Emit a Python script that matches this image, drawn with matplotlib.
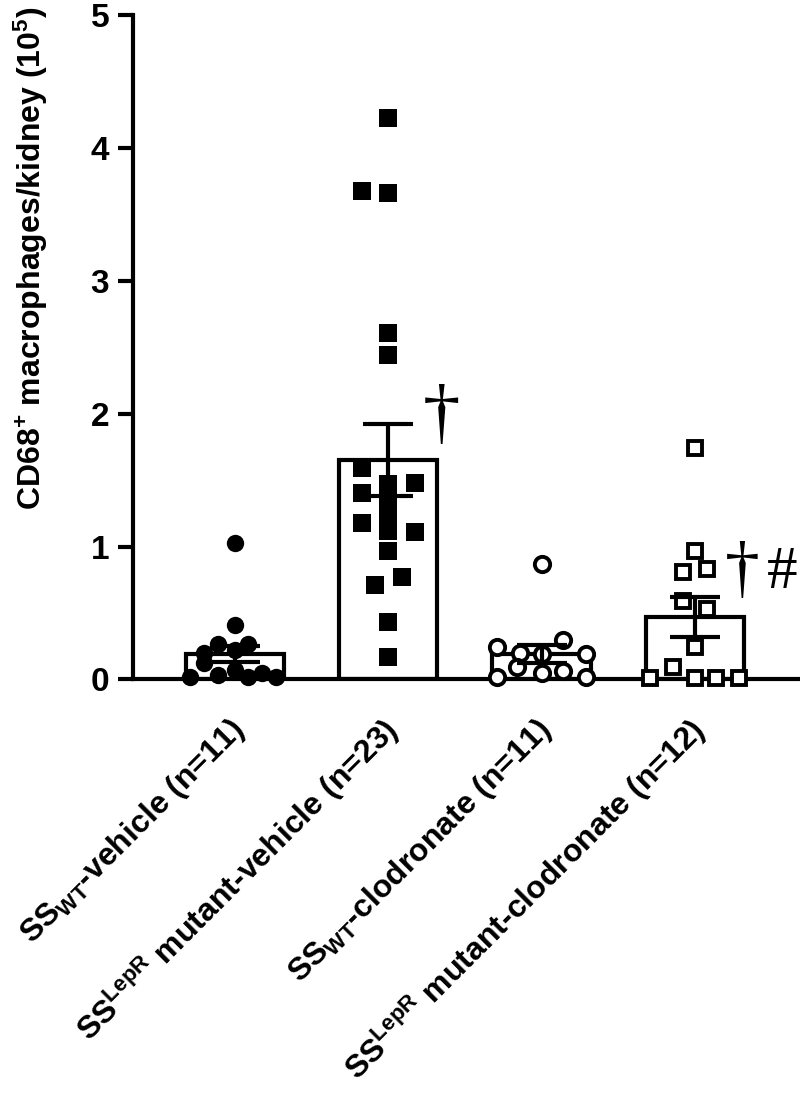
import matplotlib
matplotlib.use("Agg")
import matplotlib.pyplot as plt
import matplotlib.transforms as mtransforms
import numpy as np

plt.rcParams['font.family'] = ['Liberation Sans', 'DejaVu Sans']
plt.rcParams['font.weight'] = 'bold'
plt.rcParams['mathtext.fontset'] = 'custom'
plt.rcParams['mathtext.rm'] = 'Liberation Sans:bold'
plt.rcParams['mathtext.bf'] = 'Liberation Sans:bold'
plt.rcParams['mathtext.it'] = 'Liberation Sans:bold:italic'

# ---- data ----
categories = [r'SS$_{\mathrm{WT}}$-vehicle (n=11)',
              r'SS$^{\mathrm{LepR}}$ mutant-vehicle (n=23)',
              r'SS$_{\mathrm{WT}}$-clodronate (n=11)',
              r'SS$^{\mathrm{LepR}}$ mutant-clodronate (n=12)']
means = [0.19, 1.65, 0.19, 0.47]
sems = [0.06, 0.27, 0.07, 0.15]

wt_vehicle = [1.03, 0.41, 0.27, 0.27, 0.22, 0.20, 0.12, 0.02, 0.03, 0.07, 0.02, 0.05, 0.02]
wt_vehicle_jit = [0.0, 0.0, -0.11, 0.085, 0.0, -0.20, -0.20, -0.29, -0.11, 0.0, 0.085, 0.18, 0.27]

lepr_vehicle = [4.23, 3.68, 3.66, 2.61, 2.44, 1.59, 1.47, 1.48, 1.40, 1.36, 1.18, 1.22,
                1.12, 1.11, 0.97, 0.77, 0.71, 0.43, 0.17]
lepr_vehicle_jit = [0.0, -0.17, 0.0, 0.0, 0.0, -0.17, 0.0, 0.176, -0.17, 0.0, -0.17, 0.0,
                    0.0, 0.176, 0.0, 0.09, -0.085, 0.0, 0.0]

wt_clod = [0.87, 0.24, 0.20, 0.19, 0.30, 0.19, 0.09, 0.05, 0.06, 0.02, 0.02]
wt_clod_jit = [0.0, -0.29, -0.14, 0.0, 0.14, 0.29, -0.16, 0.0, 0.14, -0.29, 0.29]

lepr_clod = [1.74, 0.97, 0.81, 0.83, 0.59, 0.53, 0.24, 0.09, 0.01, 0.01, 0.01, 0.01]
lepr_clod_jit = [0.0, 0.0, -0.08, 0.08, -0.08, 0.08, 0.0, -0.14, -0.29, 0.0, 0.14, 0.29]

yticks = [0, 1, 2, 3, 4, 5]

# ---- figure ----
fig = plt.figure(figsize=(8, 10.94), dpi=100)
ax = fig.add_axes([0.166, 0.379, 0.834, 0.607])

x = np.arange(len(categories))
ax.bar(x, means, width=0.64, facecolor='white', edgecolor='black', linewidth=3, zorder=2)

groups = [(wt_vehicle, wt_vehicle_jit, 'o', 'black'),
          (lepr_vehicle, lepr_vehicle_jit, 's', 'black'),
          (wt_clod, wt_clod_jit, 'o', 'white'),
          (lepr_clod, lepr_clod_jit, 's', 'white')]
for i, (vals, jit, mk, fc) in enumerate(groups):
    xs = i + np.array(jit)
    if fc == 'black':
        ms = 12.5
        mew = 0
    else:
        ms = 11 if mk == 'o' else 10.5
        mew = 2.8
    ax.plot(xs, vals, linestyle='none', marker=mk, markersize=ms,
            markerfacecolor=fc, markeredgecolor='black', markeredgewidth=mew,
            zorder=3, clip_on=False)

ax.errorbar(x, means, yerr=sems, fmt='none', ecolor='black', elinewidth=3,
            capsize=18, capthick=3, zorder=4)

ax.set_xlim(-0.665, 3.685)
ax.set_ylim(0, 5)
ax.set_yticks(yticks)
ax.set_yticklabels([str(t) for t in yticks], fontsize=24, fontweight='bold')
ax.set_xticks(x)
ax.set_xticklabels(categories, rotation=45, ha='right', va='center',
                   rotation_mode='anchor', fontsize=23, fontweight='bold')
ax.tick_params(axis='x', length=0, pad=33)
ax.tick_params(axis='y', length=11, width=3, pad=6)
shift = mtransforms.ScaledTranslation(5 / 100, 0, fig.dpi_scale_trans)
for lab in ax.get_xticklabels():
    lab.set_transform(lab.get_transform() + shift)

for s in ['top', 'right']:
    ax.spines[s].set_visible(False)
ax.spines['left'].set_linewidth(3)
ax.spines['bottom'].set_linewidth(3)

ax.set_ylabel(r'CD68$^{+}$ macrophages/kidney (10$^{5}$)', fontsize=23, fontweight='bold')
ax.yaxis.set_label_coords(-0.124, 0.634)

# significance marks
ax.text(1.344, 1.97, '\u2020', fontsize=54, family='Liberation Serif', weight='normal',
        ha='center', va='center', zorder=5)
ax.text(3.307, 0.80, '\u2020', fontsize=50, family='Liberation Serif', weight='normal',
        ha='center', va='center', zorder=5)
ax.text(3.569, 0.80, '#', fontsize=44, family='Liberation Serif', weight='normal',
        ha='center', va='center', zorder=5)

fig.savefig('out.png', dpi=100)
